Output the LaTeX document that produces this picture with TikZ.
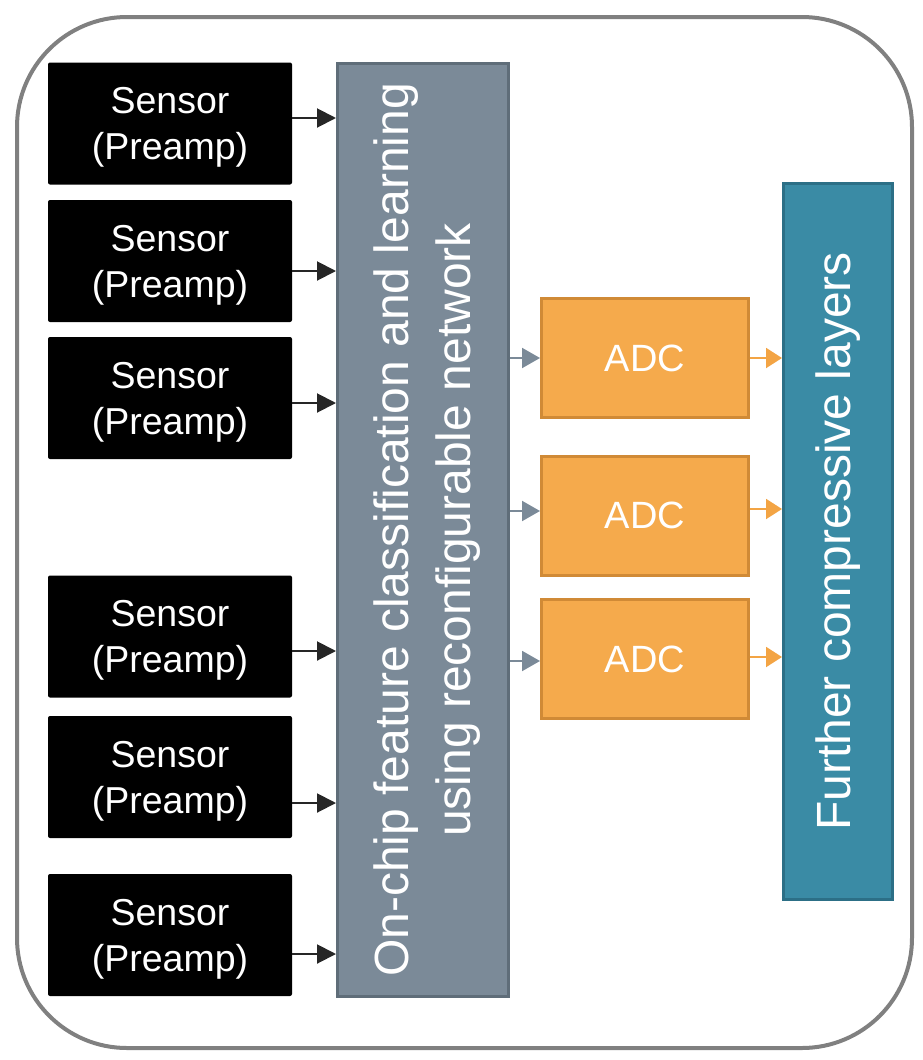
\documentclass[tikz,border=0pt]{standalone}
\usepackage{fontspec}
\setmainfont{Liberation Sans}
\usetikzlibrary{arrows.meta}
\definecolor{netgray}{HTML}{7B8A98}
\definecolor{netedge}{HTML}{5F6D79}
\definecolor{adcfill}{HTML}{F5AA4C}
\definecolor{adcedge}{HTML}{D08A36}
\definecolor{adcarrow}{HTML}{F3A444}
\definecolor{tealfill}{HTML}{3A8BA5}
\definecolor{tealedge}{HTML}{2C6F86}
\definecolor{framegray}{HTML}{808080}
\begin{document}
\begin{tikzpicture}[x=1pt,y=-1pt,
  framebox/.style={draw=framegray, line width=4pt, rounded corners=110pt, minimum width=895pt, minimum height=1031pt, inner sep=0pt},
  sensorbox/.style={fill=black, rounded corners=2pt, minimum width=244pt, minimum height=122pt, inner sep=0pt, text=white, align=center, text depth=0pt, font=\fontsize{37.5}{46}\selectfont},
  netbox/.style={fill=netgray, draw=netedge, line width=3pt, minimum width=171pt, minimum height=933pt, inner sep=0pt},
  adcbox/.style={fill=adcfill, draw=adcedge, line width=3pt, minimum width=207pt, minimum height=119pt, inner sep=0pt, text=white, font=\fontsize{38}{44}\selectfont},
  tealbox/.style={fill=tealfill, draw=tealedge, line width=3pt, minimum width=109pt, minimum height=716pt, inner sep=0pt},
  biglabel/.style={rotate=90, text=white, align=center, inner sep=0pt, font=\fontsize{48}{62}\selectfont},
  sarrow/.style={draw=black!85, line width=2pt, -{Triangle[length=19pt,width=19pt]}},
  garrow/.style={draw=netgray, line width=2pt, -{Triangle[length=18pt,width=20pt]}},
  oarrow/.style={draw=adcarrow, line width=2pt, -{Triangle[length=16pt,width=20pt]}}]
\useasboundingbox (0,0) rectangle (923,1060);
\node[framebox] (frame) at (464.5,532.5) {};
% sensors
\node[sensorbox] (s1) at (170,123.5) {Sensor\\(Preamp)};
\node[sensorbox] (s2) at (170,261) {Sensor\\(Preamp)};
\node[sensorbox] (s3) at (170,398) {Sensor\\(Preamp)};
\node[sensorbox] (s4) at (170,636.5) {Sensor\\(Preamp)};
\node[sensorbox] (s5) at (170,777) {Sensor\\(Preamp)};
\node[sensorbox] (s6) at (170,935) {Sensor\\(Preamp)};
% network
\node[netbox] (net) at (423,530) {};
\node[biglabel] (netlabel) at ([xshift=4pt]net.center) {On-chip feature classification and learning\\using reconfigurable network};
% ADCs
\node[adcbox] (a1) at (645,358) {ADC};
\node[adcbox] (a2) at (645,515.5) {ADC};
\node[adcbox] (a3) at (645,659) {ADC};
% further layers
\node[tealbox] (fl) at (838,541.5) {};
\node[biglabel] (fllabel) at (fl.center) {Further compressive layers};
% arrows sensors -> net
\draw[sarrow] (s1.east |- 0,118) -- (net.west |- 0,118);
\draw[sarrow] (s2.east |- 0,271) -- (net.west |- 0,271);
\draw[sarrow] (s3.east |- 0,403) -- (net.west |- 0,403);
\draw[sarrow] (s4.east |- 0,651) -- (net.west |- 0,651);
\draw[sarrow] (s5.east |- 0,803) -- (net.west |- 0,803);
\draw[sarrow] (s6.east |- 0,954) -- (net.west |- 0,954);
% net -> ADC
\draw[garrow] (net.east |- 0,358) -- (a1.west |- 0,358);
\draw[garrow] (net.east |- 0,511) -- (a2.west |- 0,511);
\draw[garrow] (net.east |- 0,661) -- (a3.west |- 0,661);
% ADC -> further
\draw[oarrow] (a1.east |- 0,358) -- (fl.west |- 0,358);
\draw[oarrow] (a2.east |- 0,509) -- (fl.west |- 0,509);
\draw[oarrow] (a3.east |- 0,657) -- (fl.west |- 0,657);
\end{tikzpicture}
\end{document}
